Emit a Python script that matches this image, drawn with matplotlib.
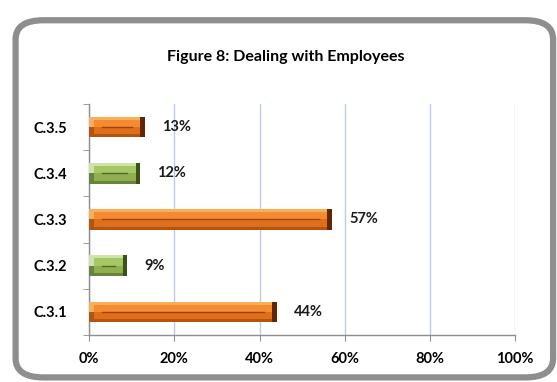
import matplotlib
matplotlib.use("Agg")
import matplotlib.pyplot as plt
from matplotlib.patches import FancyBboxPatch

plt.rcParams['font.family'] = ['Lato', 'DejaVu Sans']

categories = ['C.3.1', 'C.3.2', 'C.3.3', 'C.3.4', 'C.3.5']
values = [44, 9, 57, 12, 13]
colors = ['orange', 'green', 'orange', 'green', 'orange']
xticks = [0, 20, 40, 60, 80, 100]

# bevel shades: top edge, face (upper/lower), bottom edge, end cap, centre line
palette = {
    'orange': dict(top='#FBAE58', face_hi='#F58B30', face_lo='#E06F1C',
                   bottom='#B5540F', cap='#5A2805', line='#9A4410'),
    'green': dict(top='#CDE3A8', face_hi='#A6C766', face_lo='#8FAF50',
                  bottom='#66853A', cap='#3B501E', line='#4E6A2A'),
}

fig = plt.figure(figsize=(5.57, 3.82), dpi=100)
fig.patch.set_facecolor('white')

# rounded chart frame, kept behind the axes
frame = FancyBboxPatch((0.028, 0.012), 0.965, 0.935,
                       boxstyle="round,pad=0,rounding_size=0.05",
                       transform=fig.transFigure, facecolor='white',
                       edgecolor='#8E8E8E', linewidth=4.5, zorder=-5)
fig.patches.append(frame)

ax = fig.add_axes([0.160, 0.123, 0.765, 0.605])
ax.set_facecolor('none')

h = 0.45
b = 0.065          # bevel band thickness
fh = h - 2 * b     # face height
for i, (v, c) in enumerate(zip(values, colors)):
    p = palette[c]
    # upper and lower bevel bands
    ax.barh(i + h / 4, v, height=h / 2, color=p['top'], linewidth=0, zorder=3)
    ax.barh(i - h / 4, v, height=h / 2, color=p['bottom'], linewidth=0, zorder=3)
    # flat face, slightly lighter above the centre line
    ax.barh(i + fh / 4, v - 2.2, left=1.1, height=fh / 2, color=p['face_hi'], linewidth=0, zorder=4)
    ax.barh(i - fh / 4, v - 2.2, left=1.1, height=fh / 2, color=p['face_lo'], linewidth=0, zorder=4)
    ax.plot([3.0, v - 3.0], [i, i], color=p['line'], linewidth=1.0, zorder=5)
    # dark end cap
    ax.barh(i, 1.1, left=v - 1.1, height=h, color=p['cap'], linewidth=0, zorder=5)
    ax.text(v + 4, i, f'{v}%', va='center', ha='left', fontsize=10.5,
            fontweight='bold', color='#1a1a1a')

ax.set_xlim(0, 100)
ax.set_ylim(-0.5, 4.5)
ax.set_xticks(xticks)
ax.set_xticklabels([f'{t}%' for t in xticks], fontsize=10.5, fontweight='bold')
ax.set_yticks(range(len(categories)))
ax.set_yticklabels(categories, fontsize=10.5, fontweight='bold')
ax.tick_params(axis='y', length=0, pad=16)
ax.set_yticks([k - 0.5 for k in range(len(categories) + 1)], minor=True)
ax.tick_params(axis='y', which='minor', length=4, color='#8E8E8E', direction='out')
ax.tick_params(axis='x', length=4, color='#8E8E8E', pad=8)

ax.grid(axis='x', color='#B9CDE5', linewidth=1.0, zorder=0)
ax.set_axisbelow(True)
for s in ['top', 'right']:
    ax.spines[s].set_visible(False)
for s in ['left', 'bottom']:
    ax.spines[s].set_color('#8E8E8E')
    ax.spines[s].set_linewidth(1.0)

fig.text(0.513, 0.85, 'Figure 8: Dealing with Employees', ha='center', va='center',
         fontsize=11.5, fontweight='bold')

fig.savefig('out.png', dpi=100)
